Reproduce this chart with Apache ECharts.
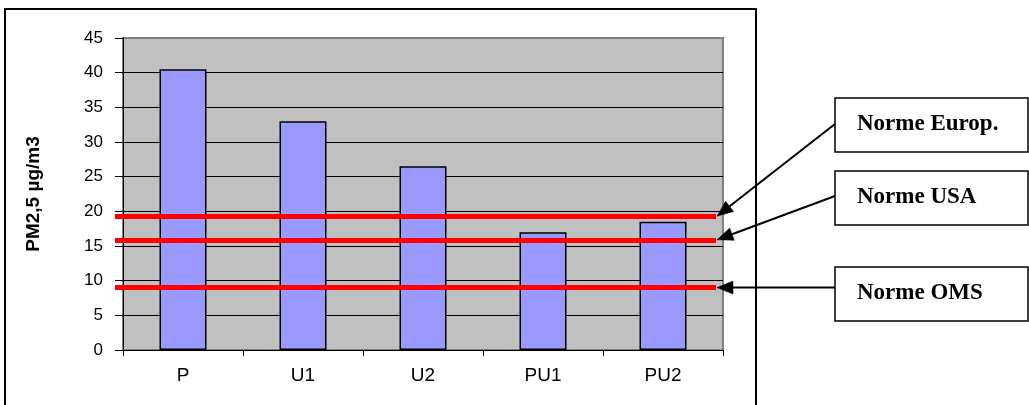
<!DOCTYPE html>
<html>
<head>
<meta charset="utf-8">
<script src="https://cdn.jsdelivr.net/npm/echarts@6/dist/echarts.min.js"></script>
<style>
html,body{margin:0;padding:0;background:#fff;}
#chart{width:1029px;height:405px;}
</style>
</head>
<body>
<div id="chart"></div>
<script>
// ---- data ----
var categories = ['P', 'U1', 'U2', 'PU1', 'PU2'];
var pm25Values = [40.5, 33, 26.5, 17, 18.5];
var normNames = ['Norme Europ.', 'Norme USA', 'Norme OMS'];
var normValues = [19.3, 15.9, 9];
var yAxisTitle = 'PM2,5 µg/m3';

// ---- layout ----
var GRID_LEFT = 123, GRID_TOP = 38, GRID_RIGHT_X = 723, GRID_BOTTOM_Y = 350;
var W = 1029, H = 405;
var LINE_START_X = GRID_LEFT - 8, LINE_END_X = GRID_RIGHT_X - 7;
var BOX_X = 835, BOX_W = 193, BOX_H = 54;
var boxTops = [98, 171, 267];
var arrowStartY = [124, 196, null]; // null: horizontal to the line

var chart = echarts.init(document.getElementById('chart'), null, {renderer: 'canvas'});

var splitColors = [];
for (var i = 0; i < 9; i++) splitColors.push('#000000');
splitColors.push('#808080');

var markData = normValues.map(function (v) {
  return [
    {yAxis: v, x: LINE_START_X},
    {yAxis: v, x: LINE_END_X}
  ];
});

chart.setOption({
  animation: false,
  backgroundColor: '#ffffff',
  grid: {
    left: GRID_LEFT, top: GRID_TOP,
    right: W - GRID_RIGHT_X, bottom: H - GRID_BOTTOM_Y,
    show: true, backgroundColor: '#c0c0c0',
    borderColor: '#808080', borderWidth: 2,
    containLabel: false
  },
  xAxis: {
    type: 'category',
    data: categories,
    axisLine: {show: true, lineStyle: {color: '#000', width: 1}},
    axisTick: {show: true, interval: 0, alignWithLabel: false, length: 6, lineStyle: {color: '#000'}},
    axisLabel: {color: '#000', fontFamily: 'Liberation Sans, Arial, sans-serif', fontSize: 19, margin: 16, interval: 0},
    splitLine: {show: false}
  },
  yAxis: {
    type: 'value',
    min: 0, max: 45, interval: 5,
    name: yAxisTitle,
    nameLocation: 'middle',
    nameRotate: 90,
    nameGap: 80,
    nameTextStyle: {color: '#000', fontFamily: 'Liberation Sans, Arial, sans-serif', fontSize: 19, fontWeight: 'bold'},
    axisLine: {show: true, lineStyle: {color: '#000', width: 1}},
    axisTick: {show: true, inside: false, length: 8, lineStyle: {color: '#000'}},
    axisLabel: {color: '#000', fontFamily: 'Liberation Sans, Arial, sans-serif', fontSize: 17, margin: 20},
    splitLine: {show: true, lineStyle: {color: splitColors, width: 1}}
  },
  series: [{
    type: 'bar',
    data: pm25Values,
    barWidth: 47,
    clip: false,
    itemStyle: {color: '#9999ff', borderColor: '#000', borderWidth: 1.5},
    markLine: {
      silent: true,
      symbol: ['none', 'none'],
      label: {show: false},
      lineStyle: {color: '#ff0000', width: 5, type: 'solid'},
      emphasis: {disabled: true},
      data: markData
    }
  }]
});

// ---- annotations (boxes + arrows) ----
function arrowHead(tx, ty, fx, fy, len, half) {
  var dx = fx - tx, dy = fy - ty;
  var d = Math.sqrt(dx * dx + dy * dy);
  var ux = dx / d, uy = dy / d;
  var bx = tx + ux * len, by = ty + uy * len;
  var px = -uy, py = ux;
  return [[tx, ty], [bx + px * half, by + py * half], [bx - px * half, by - py * half]];
}

var graphics = [];
// outer frame
graphics.push({
  type: 'rect', z: 100,
  shape: {x: 5, y: 9, width: 751, height: 410},
  style: {fill: 'none', stroke: '#000', lineWidth: 2}
});
normNames.forEach(function (name, i) {
  var top = boxTops[i];
  graphics.push({
    type: 'rect', z: 100,
    shape: {x: BOX_X, y: top, width: BOX_W, height: BOX_H},
    style: {fill: '#fff', stroke: '#000', lineWidth: 1.5}
  });
  graphics.push({
    type: 'text', z: 101,
    x: BOX_X + 22, y: top + BOX_H / 2 - 1,
    style: {text: name, fill: '#000', font: 'bold 23px "Liberation Serif", "Times New Roman", serif',
            textAlign: 'left', textVerticalAlign: 'middle', verticalAlign: 'middle'}
  });
  var ty = chart.convertToPixel({yAxisIndex: 0}, normValues[i]);
  var tx = LINE_END_X + 1;
  var fy = arrowStartY[i] == null ? ty : arrowStartY[i];
  var fx = BOX_X;
  var head = arrowHead(tx, ty, fx, fy, 16, 6.5);
  var shaftEndX = (head[1][0] + head[2][0]) / 2, shaftEndY = (head[1][1] + head[2][1]) / 2;
  graphics.push({
    type: 'line', z: 100,
    shape: {x1: fx, y1: fy, x2: shaftEndX, y2: shaftEndY},
    style: {stroke: '#000', lineWidth: 2}
  });
  graphics.push({
    type: 'polygon', z: 100,
    shape: {points: head},
    style: {fill: '#000', stroke: '#000', lineWidth: 0.5}
  });
});
chart.setOption({graphic: graphics});
</script>
</body>
</html>
